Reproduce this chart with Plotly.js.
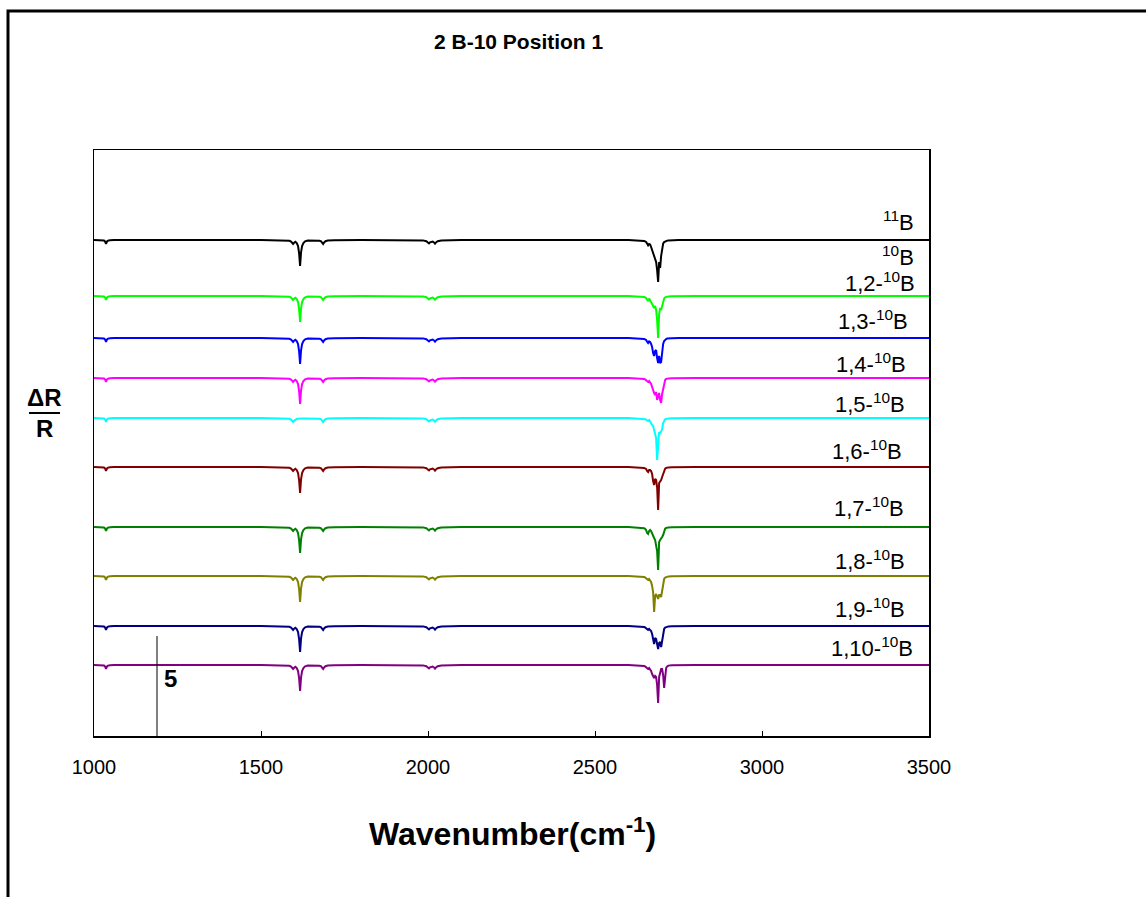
<!DOCTYPE html>
<html>
<head>
<meta charset="utf-8">
<script src="https://cdn.plot.ly/plotly-3.0.1.min.js"></script>
<style>html,body{margin:0;padding:0;background:#fff;}#chart{width:1146px;height:897px;}</style>
</head>
<body>
<div id="chart"></div>
<script>
// ---------- DATA ----------
// shared wavenumber points for the part below the main cluster
const leftX = [1000, 1025, 1030, 1033, 1036, 1039, 1042, 1048, 1060, 1500, 1570, 1585, 1590, 1593, 1596, 1599, 1603, 1607, 1611, 1614, 1617, 1620, 1623, 1627, 1632, 1640, 1660, 1675, 1680, 1683, 1686, 1689, 1693, 1700, 1720, 1800, 1950, 1985, 1995, 2000, 2003, 2006, 2010, 2014, 2018, 2021, 2024, 2029, 2040, 2100, 2600, 2620, 2630, 2638];
// dip depth (downward deflection, in ΔR/R units) for all traces with the 1617 band
const leftDepth = [0, 0.01, 0.03, 0.07, 0.2, 0.07, 0.03, 0.01, 0, 0, 0.01, 0.04, 0.08, 0.14, 0.2, 0.14, 0.09, 0.15, 0.3, 0.65, 1.3, 0.6, 0.3, 0.15, 0.07, 0.03, 0.02, 0.04, 0.07, 0.12, 0.2, 0.12, 0.06, 0.03, 0.01, 0, 0, 0.02, 0.06, 0.12, 0.17, 0.12, 0.08, 0.08, 0.12, 0.18, 0.12, 0.06, 0.02, 0, 0, 0.01, 0.02, 0.03];
// cyan trace (1,5) has no 1617 band
const leftDepthCyan = [0, 0.01, 0.03, 0.07, 0.2, 0.07, 0.03, 0.01, 0, 0, 0.01, 0.04, 0.08, 0.14, 0.2, 0.14, 0.08, 0.05, 0.04, 0.03, 0.03, 0.03, 0.03, 0.03, 0.03, 0.02, 0.02, 0.04, 0.07, 0.12, 0.2, 0.12, 0.06, 0.03, 0.01, 0, 0, 0.02, 0.06, 0.12, 0.17, 0.12, 0.08, 0.08, 0.12, 0.18, 0.12, 0.06, 0.02, 0, 0, 0.01, 0.02, 0.03];

// main B-H cluster region
const clusterX = [2641, 2644, 2647, 2650, 2653, 2656, 2659, 2662, 2665, 2668, 2671, 2674, 2677, 2680, 2683, 2686, 2689, 2692, 2695, 2698, 2701, 2704, 2707, 2710, 2713, 2716, 2720];
const depthB11   = [0.03, 0.04, 0.05, 0.07, 0.1, 0.18, 0.27, 0.2, 0.22, 0.35, 0.5, 0.65, 0.8, 0.95, 1.1, 1.5, 2.1, 1.1, 1.4, 0.8, 0.35, 0.18, 0.1, 0.07, 0.05, 0.03, 0.02];
const depth12    = [0.03, 0.04, 0.05, 0.07, 0.1, 0.18, 0.25, 0.13, 0.2, 0.3, 0.4, 0.5, 0.6, 0.5, 0.7, 1.2, 2.1, 0.9, 0.6, 0.7, 0.45, 0.25, 0.12, 0.07, 0.05, 0.03, 0.02];
const depth13    = [0.03, 0.04, 0.05, 0.07, 0.1, 0.18, 0.25, 0.17, 0.2, 0.3, 0.45, 0.75, 0.9, 0.65, 0.6, 1.0, 1.25, 0.9, 1.25, 1.2, 0.6, 0.3, 0.15, 0.08, 0.05, 0.03, 0.02];
const depth14    = [0.03, 0.04, 0.05, 0.07, 0.1, 0.15, 0.2, 0.15, 0.2, 0.3, 0.45, 0.65, 0.75, 0.85, 0.7, 1.1, 0.9, 0.75, 1.1, 1.25, 0.8, 0.5, 0.2, 0.1, 0.05, 0.03, 0.02];
const depth15    = [0.03, 0.04, 0.05, 0.06, 0.08, 0.12, 0.15, 0.1, 0.15, 0.25, 0.35, 0.4, 0.6, 0.75, 1.0, 2.1, 1.2, 0.7, 0.8, 0.65, 0.55, 0.25, 0.12, 0.07, 0.05, 0.03, 0.02];
const depth16    = [0.03, 0.04, 0.05, 0.07, 0.1, 0.2, 0.25, 0.15, 0.15, 0.2, 0.35, 0.7, 0.9, 0.6, 0.65, 1.0, 2.15, 0.8, 0.75, 0.65, 0.5, 0.35, 0.15, 0.08, 0.05, 0.03, 0.02];
const depth17    = [0.03, 0.04, 0.06, 0.09, 0.15, 0.3, 0.35, 0.2, 0.15, 0.2, 0.35, 0.5, 0.55, 0.65, 0.85, 1.2, 2.15, 0.75, 0.65, 0.6, 0.5, 0.4, 0.15, 0.08, 0.05, 0.03, 0.02];
const depth18    = [0.03, 0.04, 0.05, 0.07, 0.1, 0.15, 0.2, 0.15, 0.2, 0.3, 0.5, 0.8, 1.8, 1.0, 0.9, 1.0, 1.15, 0.95, 0.95, 1.05, 0.7, 0.4, 0.15, 0.08, 0.05, 0.03, 0.02];
const depth19    = [0.03, 0.04, 0.05, 0.07, 0.1, 0.15, 0.2, 0.15, 0.18, 0.25, 0.4, 0.6, 0.9, 0.6, 0.65, 0.9, 1.15, 0.85, 0.8, 1.05, 0.75, 0.4, 0.15, 0.08, 0.05, 0.03, 0.02];
const depth110   = [0.03, 0.04, 0.05, 0.07, 0.1, 0.15, 0.2, 0.15, 0.2, 0.3, 0.45, 0.6, 0.65, 0.55, 0.6, 1.0, 1.9, 0.6, 0.35, 0.2, 0.2, 0.5, 1.15, 0.4, 0.15, 0.07, 0.03];

const tailX = [2730, 2750, 2800, 3000, 3500];
const tailDepth = [0.01, 0, 0, 0, 0];

// vertical offsets of each spectrum (ΔR/R units)
const offsets = [24.8, 22.0, 19.9, 17.9, 15.9, 13.45, 10.45, 8.0, 5.5, 3.55];
const seriesNames = ["11B", "1,2-10B", "1,3-10B", "1,4-10B", "1,5-10B", "1,6-10B", "1,7-10B", "1,8-10B", "1,9-10B", "1,10-10B"];
const clusterDepths = [depthB11, depth12, depth13, depth14, depth15, depth16, depth17, depth18, depth19, depth110];
const leftSets = [leftDepth, leftDepth, leftDepth, leftDepth, leftDepthCyan, leftDepth, leftDepth, leftDepth, leftDepth, leftDepth];

// labels on the right
const labelTexts = ["<sup>11</sup>B", "<sup>10</sup>B", "1,2-<sup>10</sup>B", "1,3-<sup>10</sup>B", "1,4-<sup>10</sup>B", "1,5-<sup>10</sup>B", "1,6-<sup>10</sup>B", "1,7-<sup>10</sup>B", "1,8-<sup>10</sup>B", "1,9-<sup>10</sup>B", "1,10-<sup>10</sup>B"];
const scaleBarValue = 5;
const xTicks = [1000, 1500, 2000, 2500, 3000, 3500];

// ---------- STYLE / LAYOUT ----------
const colors = ["#000000", "#00ff00", "#0000ff", "#ff00ff", "#00ffff", "#800000", "#008000", "#808000", "#000080", "#800080"];
const FONT = "Liberation Sans, Arial, Helvetica, sans-serif";

// pixel helpers for layout placement (plot area 94..929 x 150..736)
const L = 94, R = 929, T = 150, B = 736;
const pxX = px => 1000 + (px - L) * 2500 / (R - L);
const yScale = 20; // px per unit
const pxY = py => (B - py) / yScale;
const paperX = px => (px - L) / (R - L);
const paperY = py => (B - py) / (B - T);

const xAll = leftX.concat(clusterX, tailX);
const traces = seriesNames.map((name, i) => {
  const d = leftSets[i].concat(clusterDepths[i], tailDepth);
  return {
    type: "scatter", mode: "lines", name: name,
    x: xAll, y: d.map(v => offsets[i] - v),
    line: {color: colors[i], width: 2},
    hoverinfo: "skip"
  };
});

// scale bar
traces.push({
  type: "scatter", mode: "lines", x: [pxX(157), pxX(157)], y: [0, scaleBarValue],
  line: {color: "#000000", width: 1}, hoverinfo: "skip"
});

const labelPos = [
  [916, 221], [916, 256], [917, 282], [910, 320], [908, 363], [907, 403],
  [904, 450], [906, 507], [907, 560], [907, 608], [915, 647]
];
const annotations = labelTexts.map((t, i) => ({
  x: pxX(labelPos[i][0]), y: pxY(labelPos[i][1]), xref: "x", yref: "y",
  text: t, showarrow: false, xanchor: "right", yanchor: "middle",
  font: {family: FONT, size: 22, color: "#000"}
}));
annotations.push(
  {x: paperX(519), y: paperY(42), xref: "paper", yref: "paper", text: "<b>2 B-10 Position 1</b>",
   showarrow: false, xanchor: "center", yanchor: "middle", font: {family: FONT, size: 21, color: "#000"}},
  {x: paperX(512), y: paperY(832), xref: "paper", yref: "paper", text: "<b>Wavenumber(cm<sup>-1</sup>)</b>",
   showarrow: false, xanchor: "center", yanchor: "middle", font: {family: FONT, size: 32, color: "#000"}},
  {x: paperX(44), y: paperY(397), xref: "paper", yref: "paper", text: "<b>ΔR</b>",
   showarrow: false, xanchor: "center", yanchor: "middle", font: {family: FONT, size: 24, color: "#000"}},
  {x: paperX(44), y: paperY(428), xref: "paper", yref: "paper", text: "<b>R</b>",
   showarrow: false, xanchor: "center", yanchor: "middle", font: {family: FONT, size: 24, color: "#000"}},
  {x: pxX(162), y: pxY(678), xref: "x", yref: "y", text: "<b>" + scaleBarValue + "</b>",
   showarrow: false, xanchor: "left", yanchor: "middle", font: {family: FONT, size: 24, color: "#000"}}
);

const shapes = [
  {type: "line", xref: "paper", yref: "paper", x0: paperX(29), x1: paperX(60), y0: paperY(413), y1: paperY(413),
   line: {color: "#000", width: 2}},
  {type: "rect", xref: "paper", yref: "paper", x0: paperX(8), x1: paperX(1300), y0: paperY(11), y1: paperY(1100),
   line: {color: "#000", width: 3}}
];

const layout = {
  width: 1146, height: 897,
  margin: {l: L, r: 1146 - R, t: T, b: 897 - B, pad: 0},
  paper_bgcolor: "#fff", plot_bgcolor: "#fff",
  showlegend: false,
  font: {family: FONT, color: "#000"},
  xaxis: {
    range: [1000, 3500], tickvals: xTicks, ticktext: xTicks.map(String),
    showgrid: false, zeroline: false, showline: true, mirror: true, linecolor: "#000", linewidth: 1.5,
    ticks: "inside", ticklen: 5, tickcolor: "#000", tickwidth: 1,
    ticklabelstandoff: 12,
    tickfont: {family: FONT, size: 20, color: "#000"}, automargin: false
  },
  yaxis: {
    range: [0, (B - T) / yScale],
    showgrid: false, zeroline: false, showline: true, mirror: true, linecolor: "#000", linewidth: 1.5,
    showticklabels: false, ticks: "", automargin: false
  },
  annotations: annotations,
  shapes: shapes
};

Plotly.newPlot("chart", traces, layout, {staticPlot: true, displayModeBar: false});
</script>
</body>
</html>
